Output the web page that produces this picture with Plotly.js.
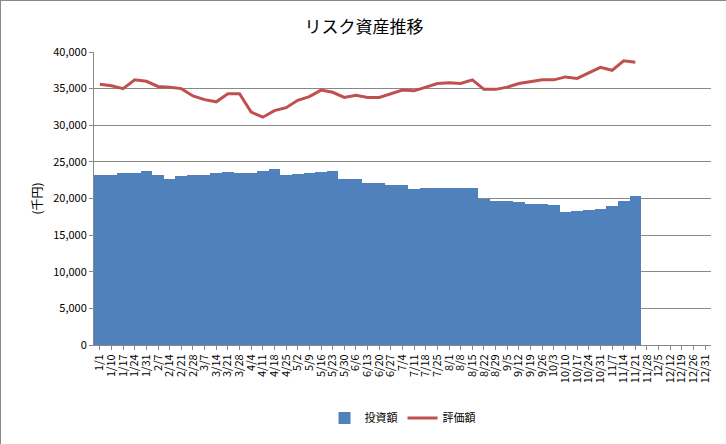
<!DOCTYPE html>
<html>
<head>
<meta charset="utf-8">
<script src="https://cdn.plot.ly/plotly-3.0.1.min.js"></script>
<style>
  body { margin: 0; }
  #chart { width: 726px; height: 444px; box-sizing: border-box; border: 1px solid #888; }
</style>
</head>
<body>
<div id="chart"></div>
<script>
var dates = ['1/1','1/10','1/17','1/24','1/31','2/7','2/14','2/21','2/28','3/7','3/14','3/21','3/28',
  '4/4','4/11','4/18','4/25','5/2','5/9','5/16','5/23','5/30','6/6','6/13','6/20','6/27','7/4','7/11',
  '7/18','7/25','8/1','8/8','8/15','8/22','8/29','9/5','9/12','9/19','9/26','10/3','10/10','10/17',
  '10/24','10/31','11/7','11/14','11/21','11/28','12/5','12/12','12/19','12/26','12/31'];

var invest = [23200,23200,23500,23500,23800,23200,22700,23100,23200,23200,23500,23600,23500,
  23500,23800,24000,23200,23400,23500,23600,23800,22700,22700,22100,22100,21800,21800,21300,
  21400,21400,21400,21500,21400,20000,19700,19600,19500,19200,19200,19100,18100,18300,
  18400,18600,19000,19600,20300];

var valuation = [35600,35400,35000,36200,36000,35300,35200,35000,34000,33500,33200,34300,34300,
  31800,31100,32000,32400,33400,33900,34800,34500,33800,34100,33800,33800,34300,34800,34700,
  35200,35700,35800,35700,36200,34900,34900,35200,35700,35900,36200,36200,36600,36400,
  37100,37900,37500,38800,38600];

var font = 'Noto Sans CJK JP, sans-serif';

var trace1 = {
  x: dates.slice(0, invest.length),
  y: invest,
  type: 'bar',
  name: '投資額',
  width: 1,
  marker: { color: '#4f81bd' }
};

var trace2 = {
  x: dates.slice(0, valuation.length),
  y: valuation,
  type: 'scatter',
  mode: 'lines',
  name: '評価額',
  line: { color: '#c0504d', width: 3 }
};

var layout = {
  width: 726,
  height: 444,
  margin: { l: 93, r: 16, t: 51, b: 83 },
  paper_bgcolor: 'white',
  plot_bgcolor: 'white',
  font: { family: font, size: 11, color: '#000' },
  title: { text: 'リスク資産推移', x: 0.5, y: 0.955, font: { size: 17, family: font } },
  bargap: 0,
  xaxis: {
    type: 'category',
    categoryorder: 'array',
    categoryarray: dates,
    tickvals: dates,
    range: [-0.5, dates.length - 0.5],
    tickangle: -90,
    ticks: 'outside',
    ticklen: 4,
    tickcolor: '#888',
    showline: true,
    linecolor: '#888',
    showgrid: false,
    automargin: false,
    tickfont: { size: 11 }
  },
  yaxis: {
    range: [0, 40000],
    dtick: 5000,
    tickformat: ',d',
    showline: true,
    linecolor: '#888',
    ticks: 'outside',
    ticklen: 4,
    tickcolor: '#888',
    gridcolor: '#888',
    zeroline: false,
    automargin: false,
    title: { text: '(千円)', font: { size: 12 }, standoff: 8 }
  },
  legend: {
    orientation: 'h',
    x: 0.5,
    xanchor: 'center',
    y: -0.2,
    yanchor: 'top',
    font: { size: 11 }
  }
};

Plotly.newPlot('chart', [trace1, trace2], layout, { displayModeBar: false });
</script>
</body>
</html>
